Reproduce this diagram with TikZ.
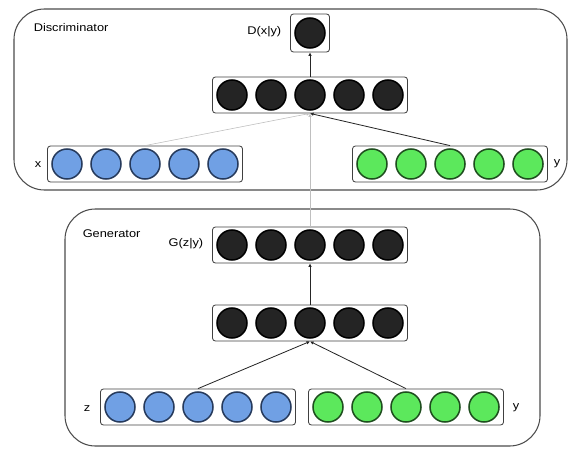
\documentclass[tikz,border=0pt]{standalone}
\usepackage{fontspec}
\setmainfont{Liberation Sans}
\usetikzlibrary{calc,arrows.meta}

\definecolor{unitblue}{RGB}{112,160,228}
\definecolor{unitgreen}{RGB}{92,232,92}
\definecolor{unitblack}{RGB}{36,36,36}
\definecolor{blueedge}{RGB}{38,58,92}
\definecolor{greenedge}{RGB}{30,78,30}

\tikzset{
  panel/.style={draw=black!70,line width=0.9pt,rounded corners=26},
  layer/.style={draw=black!75,line width=0.7pt,rounded corners=2.5pt,minimum width=5.85cm,minimum height=1.08cm,inner sep=0pt},
  single/.style={draw=black!75,line width=0.7pt,rounded corners=2.5pt,minimum width=1.17cm,minimum height=1.14cm,inner sep=0pt},
  unit/.style={circle,line width=1.3pt,minimum size=0.9cm,inner sep=0pt},
  blueunit/.style={unit,fill=unitblue,draw=blueedge},
  greenunit/.style={unit,fill=unitgreen,draw=greenedge},
  blackunit/.style={unit,fill=unitblack,draw=black},
  lab/.style={font=\fontsize{9.5}{11}\selectfont,xscale=1.15},
  link/.style={-{Latex[length=3pt,width=3pt]},line width=0.7pt,black!85},
}

\begin{document}
\begin{tikzpicture}[x=0.03cm,y=-0.03cm]
  \useasboundingbox (0,0) rectangle (571,451);
  % discriminator
  \draw[panel] (14,9) rectangle (567,190);
  \node[lab,anchor=west] (dname) at (29,28) {Discriminator};
  \node[single] (dout) at (310,33) {};
  \node[blackunit] (dout1) at (dout.center) {};
  \node[lab,anchor=east] (dlab) at (286,32) {D(x|y)};
  \node[layer] (dh) at (310,95) {};
  \node[layer] (dx) at (145,164) {};
  \node[layer] (dy) at (450,164) {};
  \foreach \i in {1,...,5} {
    \node[blackunit] (dh\i) at ($(dh.center)+({(\i-3)*39},0)$) {};
    \node[blueunit] (dx\i) at ($(dx.center)+({(\i-3)*39},0)$) {};
    \node[greenunit] (dy\i) at ($(dy.center)+({(\i-3)*39},0)$) {};
  }
  \node[lab] (xlab) at (38,165) {x};
  \node[lab] (dylab) at (557,164) {y};
  \draw[link] (dh.north) -- (dout.south);
  \draw[link,black!25,line width=0.5pt] (dx3 |- dx.north) -- (dh.south);
  \draw[link] (dy3 |- dy.north) -- (dh.south);

  % generator
  \draw[panel] (65,209) rectangle (540,446);
  \node[lab,anchor=west] (gname) at (78,234) {Generator};
  \node[layer] (gout) at (310,245) {};
  \node[lab,anchor=east] (glab) at (208,244) {G(z|y)};
  \node[layer] (gh) at (310,323) {};
  \node[layer] (gz) at (198,407) {};
  \node[layer] (gy) at (406,407) {};
  \foreach \i in {1,...,5} {
    \node[blackunit] (gout\i) at ($(gout.center)+({(\i-3)*39},0)$) {};
    \node[blackunit] (gh\i) at ($(gh.center)+({(\i-3)*39},0)$) {};
    \node[blueunit] (gz\i) at ($(gz.center)+({(\i-3)*39},0)$) {};
    \node[greenunit] (gy\i) at ($(gy.center)+({(\i-3)*39},0)$) {};
  }
  \node[lab] (zlab) at (87,409) {z};
  \node[lab] (gylab) at (516,408) {y};
  \draw[link] (gh.north) -- (gout.south);
  \draw[link] (gz3 |- gz.north) -- (gh.south);
  \draw[link] (gy3 |- gy.north) -- (gh.south);

  % generated sample fed to the discriminator
  \draw[link,black!25,line width=0.5pt] (gout.north) -- (dh.south);
\end{tikzpicture}
\end{document}
